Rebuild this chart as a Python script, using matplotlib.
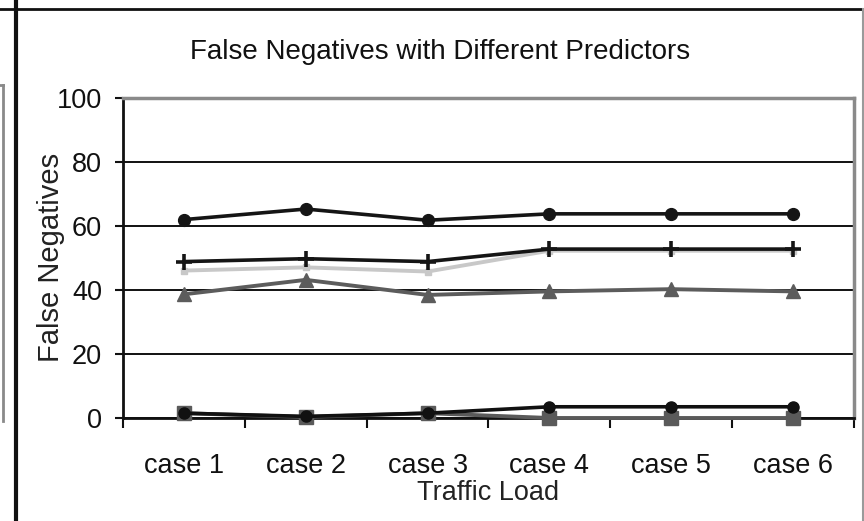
import matplotlib
matplotlib.use("Agg")
import matplotlib.pyplot as plt
from matplotlib.lines import Line2D

plt.rcParams['font.family'] = ['Liberation Sans', 'DejaVu Sans']

categories = ["case 1", "case 2", "case 3", "case 4", "case 5", "case 6"]
series_a = [61.9, 65.2, 61.7, 63.7, 63.7, 63.7]
series_b = [48.8, 49.7, 48.8, 52.7, 52.7, 52.7]
series_c = [46.0, 47.0, 45.7, 52.2, 52.2, 52.2]
series_d = [38.6, 43.1, 38.4, 39.5, 40.2, 39.5]
series_e = [1.5, 0.5, 1.5, 3.5, 3.5, 3.5]
series_f = [1.5, 0.3, 1.5, 0.0, 0.0, 0.0]
y_ticks = [0, 20, 40, 60, 80, 100]

W, H = 864, 521
fig = plt.figure(figsize=(W / 100, H / 100), dpi=100)
ax = fig.add_axes([123 / W, 1 - 418 / H, (854 - 123) / W, (418 - 97.5) / H])

x = list(range(len(categories)))

ax.plot(x, series_f, color="#5a5a5a", lw=2.8, marker="s", ms=10, zorder=5, clip_on=False)
ax.plot(x, series_e, color="#111111", lw=2.6, marker="o", ms=8, zorder=6, clip_on=False)
ax.plot(x, series_d, color="#5c5c5c", lw=2.8, marker="^", ms=9.5, zorder=3)
ax.plot(x, series_c, color="#c8c8c8", lw=2.8, marker="s", ms=4, zorder=3)
ax.plot(x, series_b, color="#151515", lw=2.6, marker="+", ms=12, mew=2.6, zorder=4)
ax.plot(x, series_a, color="#151515", lw=2.6, marker="o", ms=8.5, zorder=4)

ax.set_xlim(-0.5, len(categories) - 0.5)
ax.set_ylim(0, 100)
ax.set_yticks(y_ticks)
ax.set_yticklabels([str(v) for v in y_ticks], fontsize=19.5)
ax.yaxis.grid(True, color="#111111", lw=1.4, zorder=1)
ax.set_axisbelow(True)

ax.set_xticks(x)
ax.set_xticklabels(categories, fontsize=19.5)
ax.set_xticks([i - 0.5 for i in range(len(categories) + 1)], minor=True)
ax.tick_params(axis="x", which="major", length=0, pad=25, colors="#111111")
ax.tick_params(axis="x", which="minor", length=7, width=1.5, direction="out", colors="#111111")
ax.tick_params(axis="y", length=6, width=1.5, direction="out", pad=9, colors="#111111")

for side in ("left", "bottom"):
    ax.spines[side].set_color("#111111")
    ax.spines[side].set_linewidth(2)
for side in ("top", "right"):
    ax.spines[side].set_color("#8a8a8a")
    ax.spines[side].set_linewidth(2.5)

fig.text(440 / W, 1 - 52 / H, "False Negatives with Different Predictors",
         fontsize=20, ha="center", va="center", color="#111111")
ax.set_xlabel("Traffic Load", fontsize=19.5, labelpad=1, color="#222222")
ax.set_ylabel("False Negatives", fontsize=21, labelpad=-6, color="#222222")

# surrounding frame fragments
def fline(x0, y0, x1, y1, color, lw):
    fig.add_artist(Line2D([x0 / W, x1 / W], [1 - y0 / H, 1 - y1 / H],
                          transform=fig.transFigure, color=color, lw=lw))

fline(0, 8.5, 864, 8.5, "#111111", 2)
fline(16, 0, 16, 521, "#111111", 3)
fline(862.5, 9, 862.5, 521, "#9a9a9a", 1.5)
fline(0, 85, 3, 85, "#8a8a8a", 2)
fline(3, 85, 3, 421, "#8a8a8a", 2)

fig.savefig("out.png", dpi=100)
